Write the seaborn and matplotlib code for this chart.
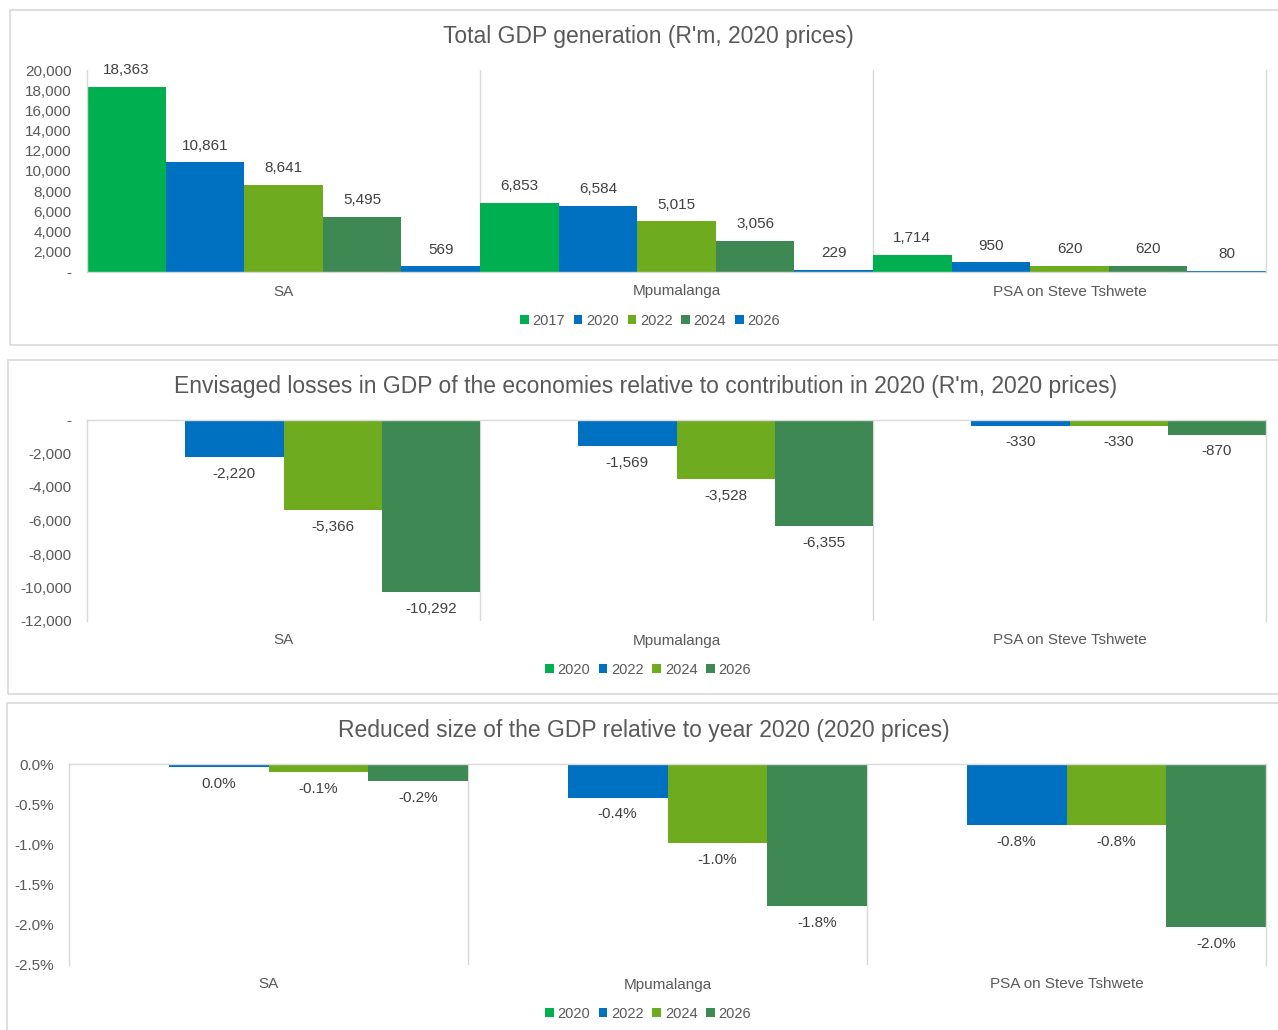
import matplotlib
matplotlib.use("Agg")
import matplotlib.pyplot as plt
from matplotlib.patches import Rectangle, Patch
from matplotlib.ticker import FuncFormatter, FixedLocator
import seaborn as sns
import pandas as pd

# ---------------- data ----------------
regions = ["SA", "Mpumalanga", "PSA on Steve Tshwete"]

gdp_years = ["2017", "2020", "2022", "2024", "2026"]
gdp_2017 = [18363, 6853, 1714]
gdp_2020 = [10861, 6584, 950]
gdp_2022 = [8641, 5015, 620]
gdp_2024 = [5495, 3056, 620]
gdp_2026 = [569, 229, 80]

loss_years = ["2020", "2022", "2024", "2026"]
loss_2020 = [0, 0, 0]
loss_2022 = [-2220, -1569, -330]
loss_2024 = [-5366, -3528, -330]
loss_2026 = [-10292, -6355, -870]

pct_years = ["2020", "2022", "2024", "2026"]
pct_2020 = [0.0, 0.0, 0.0]
pct_2022 = [-0.04, -0.42, -0.76]
pct_2024 = [-0.10, -0.98, -0.76]
pct_2026 = [-0.21, -1.77, -2.03]

title1 = "Total GDP generation (R'm, 2020 prices)"
title2 = "Envisaged losses in GDP of the economies relative to contribution in 2020 (R'm, 2020 prices)"
title3 = "Reduced size of the GDP relative to year 2020 (2020 prices)"

GREEN = "#00B050"
BLUE = "#0070C0"
LGREEN = "#6EAB1E"
DGREEN = "#3E8853"
pal1 = [GREEN, BLUE, LGREEN, DGREEN, BLUE]
pal2 = [GREEN, BLUE, LGREEN, DGREEN]

TXT = "#595959"
LBL = "#404040"
GRID = "#D9D9D9"

sns.set_theme(style="white")
plt.rcParams["font.family"] = ["Liberation Sans", "DejaVu Sans"]

W, H = 1278, 1030
fig = plt.figure(figsize=(W / 100, H / 100), dpi=100)


def fx(px):
    return px / W


def fy(py):
    return 1 - py / H


def make_df(years, series):
    rows = []
    for yr, vals in zip(years, series):
        for r, v in zip(regions, vals):
            rows.append({"region": r, "year": yr, "value": v})
    return pd.DataFrame(rows)


def box(x0, y0, x1, y1):
    fig.patches.append(Rectangle((fx(x0), fy(y1)), fx(x1) - fx(x0), fy(y0) - fy(y1),
                                 transform=fig.transFigure, fill=False,
                                 edgecolor=GRID, linewidth=1.2, zorder=0))


def style_axes(ax, top_zero):
    for s in ax.spines.values():
        s.set_color(GRID)
        s.set_linewidth(1.0)
    if top_zero:
        ax.spines["bottom"].set_visible(False)
    else:
        ax.spines["top"].set_visible(False)
    ax.set_xlim(-0.5, 2.5)
    for xv in (0.5, 1.5):
        ax.axvline(xv, color=GRID, lw=1.0, zorder=0)
    ax.tick_params(axis="both", length=0, labelsize=11, colors=TXT)
    ax.tick_params(axis="x", pad=9)
    ax.tick_params(axis="y", pad=11)
    ax.set_xlabel("")
    ax.set_ylabel("")
    ax.grid(False)


def legend(years, pal, cx, cy):
    handles = [Patch(facecolor=c, edgecolor="none", label=y) for y, c in zip(years, pal)]
    fig.legend(handles=handles, loc="center", bbox_to_anchor=(fx(cx), fy(cy)),
               ncol=len(years), frameon=False, fontsize=10.5, labelcolor=TXT,
               handlelength=0.6, handleheight=0.6, handletextpad=0.25,
               columnspacing=0.6, borderaxespad=0)


bar_kw = dict(width=1.0, gap=0, saturation=1, errorbar=None, legend=False, linewidth=0)

# ---------------- panel 1 ----------------
box(10, 10, 1290, 345)
ax1 = fig.add_axes([fx(87), fy(272), fx(1266) - fx(87), fy(70) - fy(272)])
df1 = make_df(gdp_years, [gdp_2017, gdp_2020, gdp_2022, gdp_2024, gdp_2026])
sns.barplot(data=df1, x="region", y="value", hue="year", hue_order=gdp_years,
            palette=pal1, ax=ax1, **bar_kw)
ax1.set_ylim(0, 20000)
ax1.yaxis.set_major_locator(FixedLocator(list(range(0, 20001, 2000))))
ax1.yaxis.set_major_formatter(FuncFormatter(lambda v, p: "-" if v == 0 else f"{v:,.0f}"))
style_axes(ax1, top_zero=False)
for cont in ax1.containers:
    ax1.bar_label(cont, labels=[f"{b.get_height():,.0f}" for b in cont],
                  padding=7, fontsize=11, color=LBL)
fig.text(fx(648), fy(37), title1, ha="center", va="center", fontsize=16.5, color=TXT)
legend(gdp_years, pal1, 650, 321)

# ---------------- panel 2 ----------------
box(8, 360, 1290, 694)
ax2 = fig.add_axes([fx(87), fy(621), fx(1266) - fx(87), fy(420) - fy(621)])
df2 = make_df(loss_years, [loss_2020, loss_2022, loss_2024, loss_2026])
sns.barplot(data=df2, x="region", y="value", hue="year", hue_order=loss_years,
            palette=pal2, ax=ax2, **bar_kw)
ax2.set_ylim(-12000, 0)
ax2.yaxis.set_major_locator(FixedLocator(list(range(-12000, 1, 2000))))
ax2.yaxis.set_major_formatter(FuncFormatter(lambda v, p: "-" if v == 0 else f"{v:,.0f}"))
style_axes(ax2, top_zero=True)
for cont in ax2.containers[1:]:
    ax2.bar_label(cont, labels=[f"{b.get_height():,.0f}" for b in cont],
                  padding=7, fontsize=11, color=LBL)
fig.text(fx(646), fy(387), title2, ha="center", va="center", fontsize=16.5, color=TXT)
legend(loss_years, pal2, 648, 670)

# ---------------- panel 3 ----------------
box(7, 703, 1290, 1040)
ax3 = fig.add_axes([fx(69), fy(965), fx(1266) - fx(69), fy(764) - fy(965)])
df3 = make_df(pct_years, [pct_2020, pct_2022, pct_2024, pct_2026])
sns.barplot(data=df3, x="region", y="value", hue="year", hue_order=pct_years,
            palette=pal2, ax=ax3, **bar_kw)
ax3.set_ylim(-2.5, 0)
ax3.yaxis.set_major_locator(FixedLocator([-2.5, -2.0, -1.5, -1.0, -0.5, 0.0]))


def pct_fmt(v):
    s = f"{v:.1f}%"
    return "0.0%" if s == "-0.0%" else s


ax3.yaxis.set_major_formatter(FuncFormatter(lambda v, p: pct_fmt(v)))
style_axes(ax3, top_zero=True)
for cont in ax3.containers[1:]:
    ax3.bar_label(cont, labels=[pct_fmt(b.get_height()) for b in cont],
                  padding=7, fontsize=11, color=LBL)
fig.text(fx(644), fy(731), title3, ha="center", va="center", fontsize=16.5, color=TXT)
legend(pct_years, pal2, 648, 1014)

fig.savefig("out.png", dpi=100, facecolor="white")
